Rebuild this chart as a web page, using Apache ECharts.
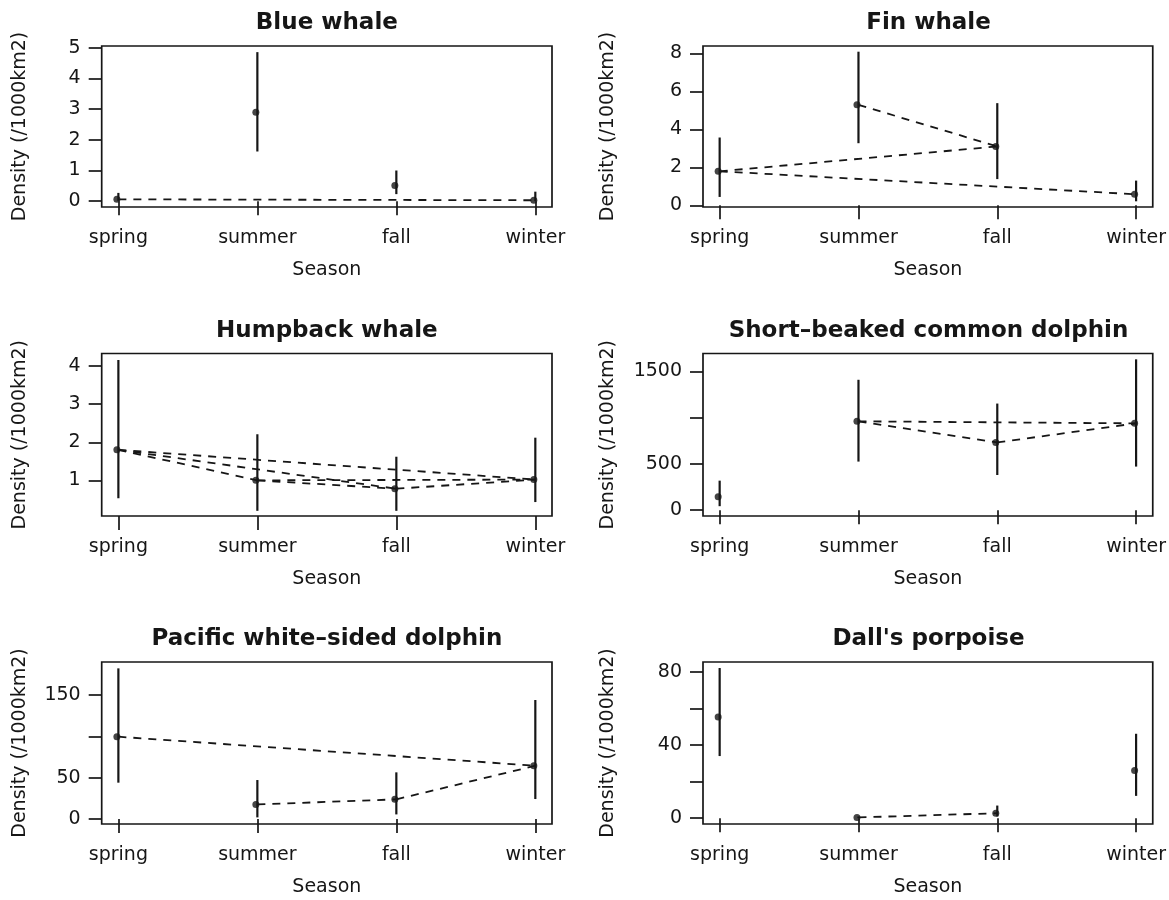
<!DOCTYPE html>
<html>
<head>
<meta charset="utf-8">
<script src="https://cdn.jsdelivr.net/npm/echarts@6/dist/echarts.min.js"></script>
<style>
html,body{margin:0;padding:0;background:#fff;}
#chart{width:1169px;height:900px;}
</style>
</head>
<body>
<div id="chart"></div>
<script>
// ---------- data ----------
const seasons = ['spring', 'summer', 'fall', 'winter'];
const seasonPos = [1, 2, 3, 4];

const titles = ['Blue whale', 'Fin whale', 'Humpback whale', 'Short\u2013beaked common dolphin', 'Pacific white\u2013sided dolphin', "Dall's porpoise"];

const blueMean  = [0.06, 2.90, 0.51, 0.03];
const blueLower = [0.01, 1.62, 0.23, 0.00];
const blueUpper = [0.27, 4.86, 1.00, 0.31];
const blueLinks = [[0, 3]];
const blueTicks = [0, 1, 2, 3, 4, 5];
const blueLabels = [0, 1, 2, 3, 4, 5];
const blueRange = [-0.19, 5.06];

const finMean  = [1.79, 5.29, 3.10, 0.58];
const finLower = [0.44, 3.27, 1.38, 0.21];
const finUpper = [3.57, 8.09, 5.38, 1.30];
const finLinks = [[0, 2], [0, 3], [1, 2]];
const finTicks = [0, 2, 4, 6, 8];
const finLabels = [0, 2, 4, 6, 8];
const finRange = [-0.09, 8.39];

const humpMean  = [1.80, 1.00, 0.78, 1.02];
const humpLower = [0.53, 0.20, 0.20, 0.43];
const humpUpper = [4.16, 2.21, 1.62, 2.12];
const humpLinks = [[0, 1], [0, 2], [0, 3], [1, 2], [1, 3], [2, 3]];
const humpTicks = [1, 2, 3, 4];
const humpLabels = [1, 2, 3, 4];
const humpRange = [0.064, 4.33];

const sbcdMean  = [145, 960, 732, 938];
const sbcdLower = [43, 525, 380, 471];
const sbcdUpper = [319, 1409, 1152, 1630];
const sbcdLinks = [[1, 2], [1, 3], [2, 3]];
const sbcdTicks = [0, 500, 1000, 1500];
const sbcdLabels = [0, 500, 1500];
const sbcdRange = [-63, 1693];

const pwsdMean  = [99.6, 17.7, 23.8, 64.5];
const pwsdLower = [44, 2.0, 5.6, 24.2];
const pwsdUpper = [182.3, 47.2, 56.5, 144];
const pwsdLinks = [[0, 3], [1, 2], [2, 3]];
const pwsdTicks = [0, 50, 100, 150];
const pwsdLabels = [0, 50, 150];
const pwsdRange = [-6, 190];

const dallMean  = [55.4, 0.4, 2.7, 26.1];
const dallLower = [34, 0.0, 0.9, 12.2];
const dallUpper = [82.2, 0.9, 6.9, 46.2];
const dallLinks = [[1, 2]];
const dallTicks = [0, 20, 40, 60, 80];
const dallLabels = [0, 40, 80];
const dallRange = [-3.2, 85.5];

const panels = [
  {mean: blueMean, lower: blueLower, upper: blueUpper, links: blueLinks, ticks: blueTicks, labels: blueLabels, range: blueRange},
  {mean: finMean, lower: finLower, upper: finUpper, links: finLinks, ticks: finTicks, labels: finLabels, range: finRange},
  {mean: humpMean, lower: humpLower, upper: humpUpper, links: humpLinks, ticks: humpTicks, labels: humpLabels, range: humpRange},
  {mean: sbcdMean, lower: sbcdLower, upper: sbcdUpper, links: sbcdLinks, ticks: sbcdTicks, labels: sbcdLabels, range: sbcdRange},
  {mean: pwsdMean, lower: pwsdLower, upper: pwsdUpper, links: pwsdLinks, ticks: pwsdTicks, labels: pwsdLabels, range: pwsdRange},
  {mean: dallMean, lower: dallLower, upper: dallUpper, links: dallLinks, ticks: dallTicks, labels: dallLabels, range: dallRange}
];

// ---------- layout ----------
const FONT = 'DejaVu Sans';
const INK = '#161616';
const colLeft = [101.7, 703];
const colWidth = [450.3, 451];
const rowTop = [46, 353.5, 662];
const rowHeight = [161, 162.5, 162];
const yNameGap = [72, 85];

const grids = [], xAxes = [], yAxes = [], series = [], titleList = [];

panels.forEach((p, i) => {
  const col = i % 2, row = Math.floor(i / 2);
  grids.push({
    left: colLeft[col], top: rowTop[row], width: colWidth[col], height: rowHeight[row],
    show: true, borderColor: INK, borderWidth: 1.7, backgroundColor: 'transparent', containLabel: false
  });
  titleList.push({
    text: titles[i],
    left: colLeft[col] + colWidth[col] / 2,
    top: rowTop[row] - 34,
    textAlign: 'center',
    padding: 0,
    textStyle: {fontFamily: FONT, fontWeight: 'bold', fontSize: 23, color: INK}
  });
  xAxes.push({
    type: 'value', gridIndex: i, min: 0.88, max: 4.12,
    name: 'Season', nameLocation: 'middle', nameGap: 54,
    nameTextStyle: {fontFamily: FONT, fontSize: 19, color: INK},
    axisLine: {show: false},
    splitLine: {show: false},
    axisTick: {show: true, inside: false, length: 14, customValues: seasonPos, lineStyle: {color: INK, width: 1.7}},
    axisLabel: {show: true, margin: 22, customValues: seasonPos, fontFamily: FONT, fontSize: 19, color: INK,
      formatter: v => seasons[Math.round(v) - 1]}
  });
  yAxes.push({
    type: 'value', gridIndex: i, min: p.range[0], max: p.range[1],
    name: 'Density (/1000km2)', nameLocation: 'middle', nameGap: yNameGap[col], nameRotate: 90,
    nameTextStyle: {fontFamily: FONT, fontSize: 19, color: INK},
    axisLine: {show: false},
    splitLine: {show: false},
    axisTick: {show: true, inside: false, length: 13, customValues: p.ticks, lineStyle: {color: INK, width: 1.7}},
    axisLabel: {show: true, margin: 21, customValues: p.labels, fontFamily: FONT, fontSize: 19, color: INK,
      formatter: v => String(v)}
  });

  // dashed connecting lines
  series.push({
    type: 'custom', xAxisIndex: i, yAxisIndex: i, z: 2, silent: true,
    data: p.links.map(l => [seasonPos[l[0]], p.mean[l[0]], seasonPos[l[1]], p.mean[l[1]]]),
    encode: {x: [0, 2], y: [1, 3]},
    renderItem: (params, api) => {
      const a = api.coord([api.value(0), api.value(1)]);
      const b = api.coord([api.value(2), api.value(3)]);
      return {type: 'line', shape: {x1: a[0], y1: a[1], x2: b[0], y2: b[1]},
        style: {stroke: INK, lineWidth: 1.8, lineDash: [8, 7], fill: null}};
    }
  });
  // error bars
  series.push({
    type: 'custom', xAxisIndex: i, yAxisIndex: i, z: 3, silent: true,
    data: seasonPos.map((x, k) => [x, p.lower[k], p.upper[k]]),
    encode: {x: 0, y: [1, 2]},
    renderItem: (params, api) => {
      const a = api.coord([api.value(0), api.value(1)]);
      const b = api.coord([api.value(0), api.value(2)]);
      return {type: 'line', shape: {x1: a[0], y1: a[1], x2: b[0], y2: b[1]},
        style: {stroke: INK, lineWidth: 2.2, fill: null}};
    }
  });
  // point estimates
  series.push({
    type: 'scatter', xAxisIndex: i, yAxisIndex: i, z: 4, silent: true,
    symbol: 'circle', symbolSize: 7, symbolOffset: [-1.5, 0],
    itemStyle: {color: INK},
    data: seasonPos.map((x, k) => [x, p.mean[k]])
  });
});

const chart = echarts.init(document.getElementById('chart'), null, {renderer: 'canvas'});
chart.setOption({
  animation: false,
  backgroundColor: '#ffffff',
  title: titleList,
  grid: grids,
  xAxis: xAxes,
  yAxis: yAxes,
  series: series
});
</script>
</body>
</html>
